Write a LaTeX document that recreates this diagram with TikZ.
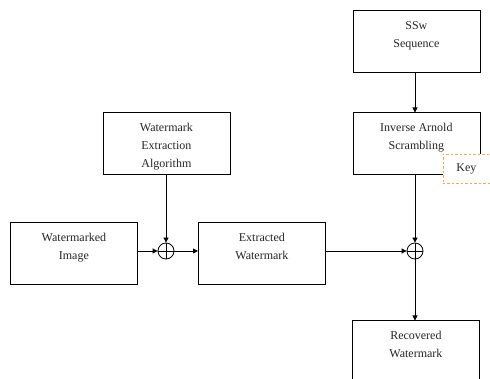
\documentclass[tikz,border=0pt]{standalone}
\usepackage{fontspec}
\setmainfont{Liberation Serif}
\usetikzlibrary{arrows.meta,calc}
\definecolor{keyorange}{HTML}{F2A66A}
\tikzset{
  blk/.style={draw=black, line width=0.8pt, fill=white, minimum width=127pt, minimum height=62pt, inner sep=0pt, anchor=north west},
  blktext/.style={anchor=north, align=center, inner sep=0pt, font=\fontsize{12pt}{18pt}\selectfont, text=black!85},
  xor/.style={circle, draw=black, line width=0.8pt, minimum size=16pt, inner sep=0pt,
    path picture={\draw[line width=0.8pt] (path picture bounding box.north) -- (path picture bounding box.south)
      (path picture bounding box.west) -- (path picture bounding box.east);}},
  conn/.style={draw=black, line width=0.8pt, -{Triangle[length=5pt,width=5pt]}},
  keybox/.style={draw=keyorange, line width=0.9pt, dash pattern=on 2.5pt off 2pt, fill=white, minimum width=47pt, minimum height=29pt, inner sep=0pt, anchor=north west, font=\fontsize{12pt}{14pt}\selectfont, text=black!85}
}
\begin{document}
\begin{tikzpicture}[x=1pt,y=-1pt]
\useasboundingbox[fill=white] (0,0) rectangle (490,379);
\clip (0,0) rectangle (490,379);
% boxes
\node[blk] (wi) at (10,222.5) {};
\node[blktext] (wit) at ($(wi.north)+(0,10.5)$) {Watermarked\\Image};
\node[blk] (wea) at (102.5,112.5) {};
\node[blktext] (weat) at ($(wea.north)+(0,10.5)$) {Watermark\\Extraction\\Algorithm};
\node[blk] (ew) at (198,222.5) {};
\node[blktext] (ewt) at ($(ew.north)+(0,10.5)$) {Extracted\\Watermark};
\node[blk] (ss) at (352.5,10.5) {};
\node[blktext] (sst) at ($(ss.north)+(0,10.5)$) {SSw\\Sequence};
\node[blk] (ia) at (352.5,112.5) {};
\node[blktext] (iat) at ($(ia.north)+(0,10.5)$) {Inverse Arnold\\Scrambling};
\node[blk] (rw) at (352,320.5) {};
\node[blktext] (rwt) at ($(rw.north)+(0,10.5)$) {Recovered\\Watermark};
\node[keybox] (key) at (442.5,154) {Key};
% xor circles
\node[xor] (x1) at (166,251) {};
\node[xor] (x2) at (415,251) {};
% connectors
\draw[conn] (wea.south -| x1) -- (x1.north);
\draw[conn] (x1 -| wi.east) -- (x1.west);
\draw[conn] (x1.east) -- (x1 -| ew.west);
\draw[conn] (x2 -| ew.east) -- (x2.west);
\draw[conn] (ss.south -| x2) -- (ia.north -| x2);
\draw[conn] (ia.south -| x2) -- (x2.north);
\draw[conn] (x2.south) -- (rw.north -| x2);
\end{tikzpicture}
\end{document}
